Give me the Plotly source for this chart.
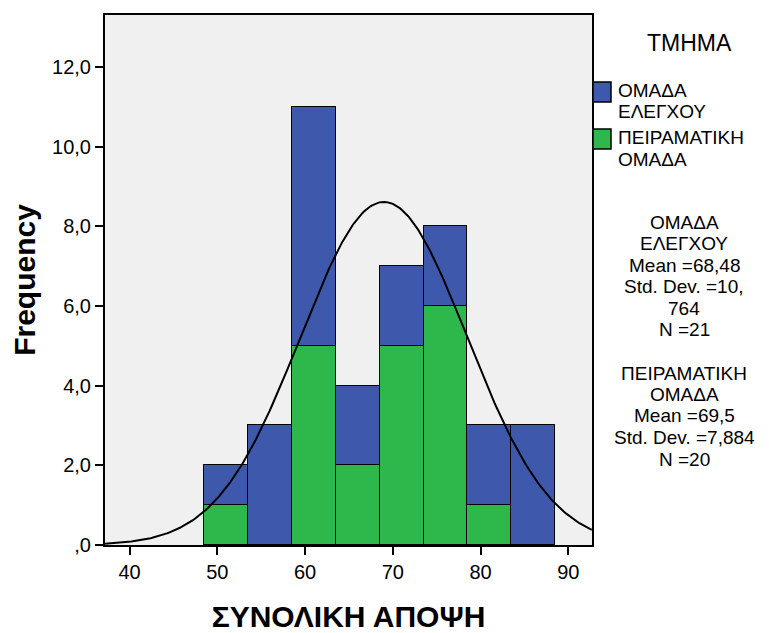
import numpy as np
import plotly.graph_objects as go

# ---- data ----
bin_left = [48.5, 53.5, 58.5, 63.5, 68.5, 73.5, 78.5, 83.5]
bin_width = 5
green_counts = [1, 0, 5, 2, 5, 6, 1, 0]   # ΠΕΙΡΑΜΑΤΙΚΗ ΟΜΑΔΑ
blue_counts = [1, 3, 6, 2, 2, 2, 2, 3]    # ΟΜΑΔΑ ΕΛΕΓΧΟΥ (stacked on top)
total_n = 41
curve_mean = 68.98
curve_sd = 9.5
x_tickvals = [40, 50, 60, 70, 80, 90]
y_tickvals = [0, 2, 4, 6, 8, 10, 12]
y_ticktext = [",0", "2,0", "4,0", "6,0", "8,0", "10,0", "12,0"]
legend_title = "ΤΜΗΜΑ"
legend_labels = [["ΟΜΑΔΑ", "ΕΛΕΓΧΟΥ"], ["ΠΕΙΡΑΜΑΤΙΚΗ", "ΟΜΑΔΑ"]]
stats_lines = [
    ["ΟΜΑΔΑ", "ΕΛΕΓΧΟΥ", "Mean =68,48", "Std. Dev. =10,", "764", "N =21"],
    ["ΠΕΙΡΑΜΑΤΙΚΗ", "ΟΜΑΔΑ", "Mean =69,5", "Std. Dev. =7,884", "N =20"],
]

BLUE = "#3E58AC"
GREEN = "#2EB84C"
FONT = "Liberation Sans, Arial, sans-serif"

centers = [b + bin_width / 2 for b in bin_left]

fig = go.Figure()
fig.add_trace(go.Bar(x=centers, y=green_counts, width=bin_width,
                     marker=dict(color=GREEN, line=dict(color="black", width=1.5)),
                     showlegend=False, hoverinfo="skip"))
fig.add_trace(go.Bar(x=centers, y=blue_counts, width=bin_width,
                     marker=dict(color=BLUE, line=dict(color="black", width=1.5)),
                     showlegend=False, hoverinfo="skip"))

xr = [37.2, 92.7]
xc = np.linspace(xr[0], xr[1], 300)
yc = total_n * bin_width / (curve_sd * np.sqrt(2 * np.pi)) * np.exp(-0.5 * ((xc - curve_mean) / curve_sd) ** 2)
fig.add_trace(go.Scatter(x=xc, y=yc, mode="lines", line=dict(color="black", width=2),
                         showlegend=False, hoverinfo="skip"))

# plot area in pixels
L, R, T, B = 105, 592, 15, 545
W, H = 769, 633
PH = B - T
PW = R - L

def py(ypx):
    return (B - ypx) / PH

def px(xpx):
    return (xpx - L) / PW

ann = []
shapes = []
# legend title
ann.append(dict(x=px(689), y=py(43), xref="paper", yref="paper", text=legend_title,
                showarrow=False, font=dict(size=23, color="black", family=FONT),
                xanchor="center", yanchor="middle"))
# legend items
item_tops = [82, 129]
colors = [BLUE, GREEN]
for top, col, lab in zip(item_tops, colors, legend_labels):
    shapes.append(dict(type="rect", xref="paper", yref="paper",
                       x0=px(593), x1=px(611), y0=py(top), y1=py(top + 20),
                       fillcolor=col, line=dict(color="black", width=1.5)))
    for i, t in enumerate(lab):
        ann.append(dict(x=px(616), y=py(top - 1 + i * 21 + 10), xref="paper", yref="paper",
                        text=t, showarrow=False, font=dict(size=19, color="black", family=FONT),
                        xanchor="left", yanchor="middle"))
# stats blocks
block_tops = [222, 373]
for top, lines in zip(block_tops, stats_lines):
    for i, t in enumerate(lines):
        ann.append(dict(x=px(684), y=py(top + i * 21.5), xref="paper", yref="paper",
                        text=t, showarrow=False, font=dict(size=19, color="black", family=FONT),
                        xanchor="center", yanchor="middle"))

fig.update_layout(
    width=W, height=H,
    margin=dict(l=L, r=W - R, t=T, b=H - B),
    paper_bgcolor="white", plot_bgcolor="#F0F0F0",
    barmode="stack", bargap=0,
    font=dict(family=FONT, color="black"),
    annotations=ann, shapes=shapes,
    xaxis=dict(range=xr, tickvals=x_tickvals, ticks="outside", ticklen=8, tickwidth=2,
               tickcolor="black", showline=True, linecolor="black", linewidth=2, mirror=True,
               showgrid=False, zeroline=False, tickfont=dict(size=20), automargin=False,
               title=dict(text="<b>ΣΥΝΟΛΙΚΗ ΑΠΟΨΗ</b>", font=dict(size=30), standoff=30)),
    yaxis=dict(range=[0, 13.3], tickvals=y_tickvals, ticktext=y_ticktext, ticks="outside",
               ticklen=8, tickwidth=2, tickcolor="black", showline=True, linecolor="black",
               linewidth=2, mirror=True, showgrid=False, zeroline=False, tickfont=dict(size=20),
               automargin=False,
               title=dict(text="<b>Frequency</b>", font=dict(size=30), standoff=8)),
)

fig.write_html("out.html")
